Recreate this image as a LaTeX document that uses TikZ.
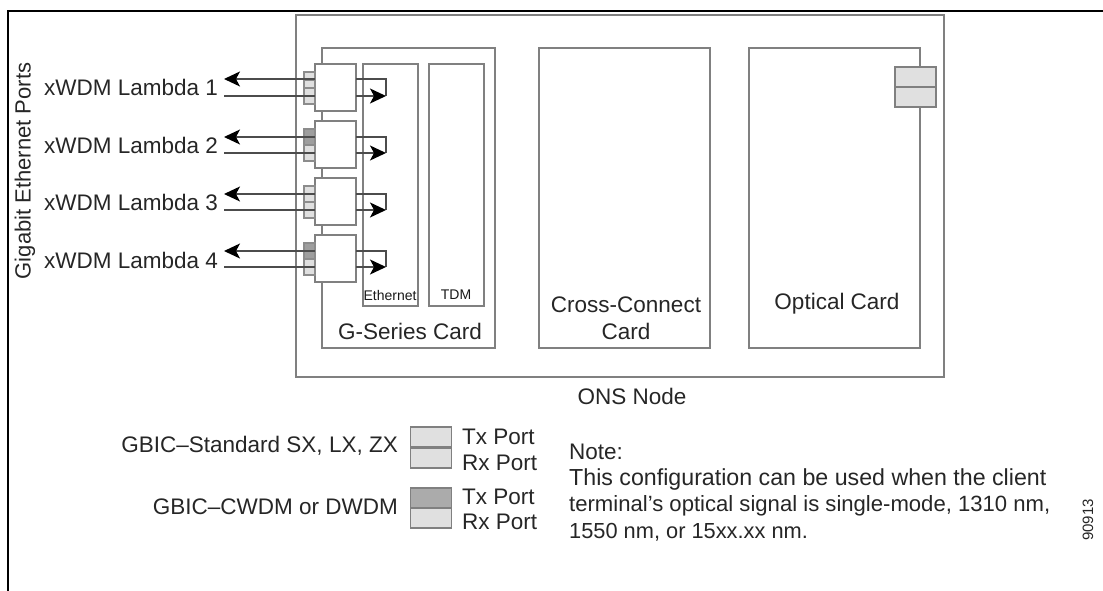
\documentclass[tikz,border=0pt]{standalone}
\usepackage{fontspec}
\setmainfont{Liberation Sans}
\usetikzlibrary{positioning}
\usetikzlibrary{arrows.meta}

\tikzset{
	box/.style={draw=black!50,line width=1.7pt,fill=white,inner sep=0pt,outer sep=0pt,anchor=north west},
	gbic/.style={draw=black!50,line width=1.7pt,fill=white,inner sep=0pt,outer sep=0pt,minimum width=41pt,minimum height=47pt},
	lightport/.style={draw=black!45,line width=1.3pt,fill=black!12,inner sep=0pt,minimum width=11pt,minimum height=8pt},
	darkport/.style={draw=black!45,line width=1.3pt,fill=black!38,inner sep=0pt,minimum width=11pt,minimum height=8pt},
	lightkey/.style={draw=black!50,line width=1.5pt,fill=black!12,inner sep=0pt,minimum width=41pt,minimum height=20pt},
	darkkey/.style={draw=black!50,line width=1.5pt,fill=black!33,inner sep=0pt,minimum width=41pt,minimum height=20pt},
	fibre/.style={draw=black!70,line width=1.5pt},
	fibrearrow/.style={fibre,-{Stealth[length=16pt,width=15pt,inset=4pt,black]}},
	txt/.style={inner sep=0pt,font=\fontsize{22.5}{27}\selectfont,text=black!85},
	tiny/.style={inner sep=0pt,font=\fontsize{14}{15}\selectfont,text=black!90}
}

\begin{document}
\begin{tikzpicture}[x=1pt,y=-1pt]
	\useasboundingbox (0,0) rectangle (1103,591);

	\coordinate (framebl) at (8,591);
	\coordinate (frametl) at (8,11);
	\coordinate (frametr) at (1103,11);
	\draw[line width=2.4pt] (framebl) -- (frametl) -- (frametr);

	\node[box,minimum width=648pt,minimum height=362pt] (ons) at (296,15) {};
	\node[box,minimum width=173pt,minimum height=300pt] (gcard) at (322,48) {};
	\node[box,minimum width=55pt,minimum height=242pt] (ethernet) at (363,64) {};
	\node[box,minimum width=55pt,minimum height=242pt] (tdm) at (429,64) {};
	\node[box,minimum width=171pt,minimum height=300pt] (xconnect) at (539,48) {};
	\node[box,minimum width=171pt,minimum height=300pt] (optical) at (749,48) {};

	\node[lightkey] (opttx) at (915.5,77) {};
	\node[lightkey] (optrx) at (915.5,97) {};

	\node[gbic] (gbica) at (335.5,87.5) {};
	\node[gbic] (gbicb) at (335.5,144.5) {};
	\node[gbic] (gbicc) at (335.5,201.5) {};
	\node[gbic] (gbicd) at (335.5,258.5) {};

	\node[lightport] (porta1) at (309.5,76) {};
	\node[lightport] (porta2) at (309.5,84) {};
	\node[lightport] (porta3) at (309.5,92) {};
	\node[lightport] (porta4) at (309.5,100) {};
	\node[darkport] (portb1) at (309.5,133) {};
	\node[darkport] (portb2) at (309.5,141) {};
	\node[lightport] (portb3) at (309.5,149) {};
	\node[lightport] (portb4) at (309.5,157) {};
	\node[lightport] (portc1) at (309.5,190) {};
	\node[lightport] (portc2) at (309.5,198) {};
	\node[lightport] (portc3) at (309.5,206) {};
	\node[lightport] (portc4) at (309.5,214) {};
	\node[darkport] (portd1) at (309.5,247) {};
	\node[darkport] (portd2) at (309.5,255) {};
	\node[lightport] (portd3) at (309.5,263) {};
	\node[lightport] (portd4) at (309.5,271) {};

	\coordinate (outa) at (224,79);
	\coordinate (ina) at (224,96);
	\coordinate (loopa) at (386,79);
	\coordinate (enda) at (386,96);
	\coordinate (outb) at (224,137);
	\coordinate (inb) at (224,153);
	\coordinate (loopb) at (386,137);
	\coordinate (endb) at (386,153);
	\coordinate (outc) at (224,194);
	\coordinate (inc) at (224,210);
	\coordinate (loopc) at (386,194);
	\coordinate (endc) at (386,210);
	\coordinate (outd) at (224,251);
	\coordinate (ind) at (224,267);
	\coordinate (loopd) at (386,251);
	\coordinate (endd) at (386,267);

	\draw[fibrearrow] (outa -| gbica.west) -- (outa);
	\draw[fibre] (ina) -- (ina -| gbica.west);
	\draw[fibre] (outa -| gbica.east) -- (loopa) -- (enda);
	\draw[fibrearrow] (enda -| gbica.east) -- (enda);

	\draw[fibrearrow] (outb -| gbicb.west) -- (outb);
	\draw[fibre] (inb) -- (inb -| gbicb.west);
	\draw[fibre] (outb -| gbicb.east) -- (loopb) -- (endb);
	\draw[fibrearrow] (endb -| gbicb.east) -- (endb);

	\draw[fibrearrow] (outc -| gbicc.west) -- (outc);
	\draw[fibre] (inc) -- (inc -| gbicc.west);
	\draw[fibre] (outc -| gbicc.east) -- (loopc) -- (endc);
	\draw[fibrearrow] (endc -| gbicc.east) -- (endc);

	\draw[fibrearrow] (outd -| gbicd.west) -- (outd);
	\draw[fibre] (ind) -- (ind -| gbicd.west);
	\draw[fibre] (outd -| gbicd.east) -- (loopd) -- (endd);
	\draw[fibrearrow] (endd -| gbicd.east) -- (endd);

	\node[txt,rotate=90,font=\fontsize{22}{27}\selectfont] (ports) at (25,171) {Gigabit Ethernet Ports};
	\node[txt,anchor=west] (lambdaa) at (44,87) {xWDM Lambda 1};
	\node[txt,anchor=west] (lambdab) at (44,145) {xWDM Lambda 2};
	\node[txt,anchor=west] (lambdac) at (44,202) {xWDM Lambda 3};
	\node[txt,anchor=west] (lambdad) at (44,260) {xWDM Lambda 4};

	\node[tiny] (ethlabel) at (390,295) {Ethernet};
	\node[tiny] (tdmlabel) at (456,295) {TDM};
	\node[txt] (glabel) at (410,331) {G-Series Card};
	\node[txt,align=center] (xlabel) at (626,318) {Cross-Connect\\Card};
	\node[txt] (optlabel) at (837,304) {Optical Card};
	\node[txt] (onslabel) at (632,396) {ONS Node};

	\node[lightkey] (stdtx) at (431,437) {};
	\node[lightkey] (stdrx) at (431,458) {};
	\node[darkkey] (wdmtx) at (431,498) {};
	\node[lightkey] (wdmrx) at (431,518) {};

	\node[txt,anchor=east] (stdlabel) at (398,446) {GBIC–Standard SX, LX, ZX};
	\node[txt,anchor=east] (wdmlabel) at (398,507) {GBIC–CWDM or DWDM};
	\node[txt,anchor=west] (stdtxlabel) at (462,437) {Tx Port};
	\node[txt,anchor=west] (stdrxlabel) at (462,463) {Rx Port};
	\node[txt,anchor=west] (wdmtxlabel) at (462,497) {Tx Port};
	\node[txt,anchor=west] (wdmrxlabel) at (462,522) {Rx Port};

	\node[txt,anchor=west] (notea) at (569,452) {Note:};
	\node[txt,anchor=west,font=\fontsize{23.2}{27}\selectfont] (noteb) at (569,479) {This configuration can be used when the client};
	\node[txt,anchor=west,font=\fontsize{22.1}{27}\selectfont] (notec) at (569,506) {terminal's optical signal is single-mode, 1310 nm,};
	\node[txt,anchor=west,font=\fontsize{21.8}{27}\selectfont] (noted) at (569,532) {1550 nm, or 15xx.xx nm.};
	\node[inner sep=0pt,rotate=90,font=\fontsize{15}{15}\selectfont,text=black!85] (figid) at (1088,520) {90913};
\end{tikzpicture}
\end{document}
